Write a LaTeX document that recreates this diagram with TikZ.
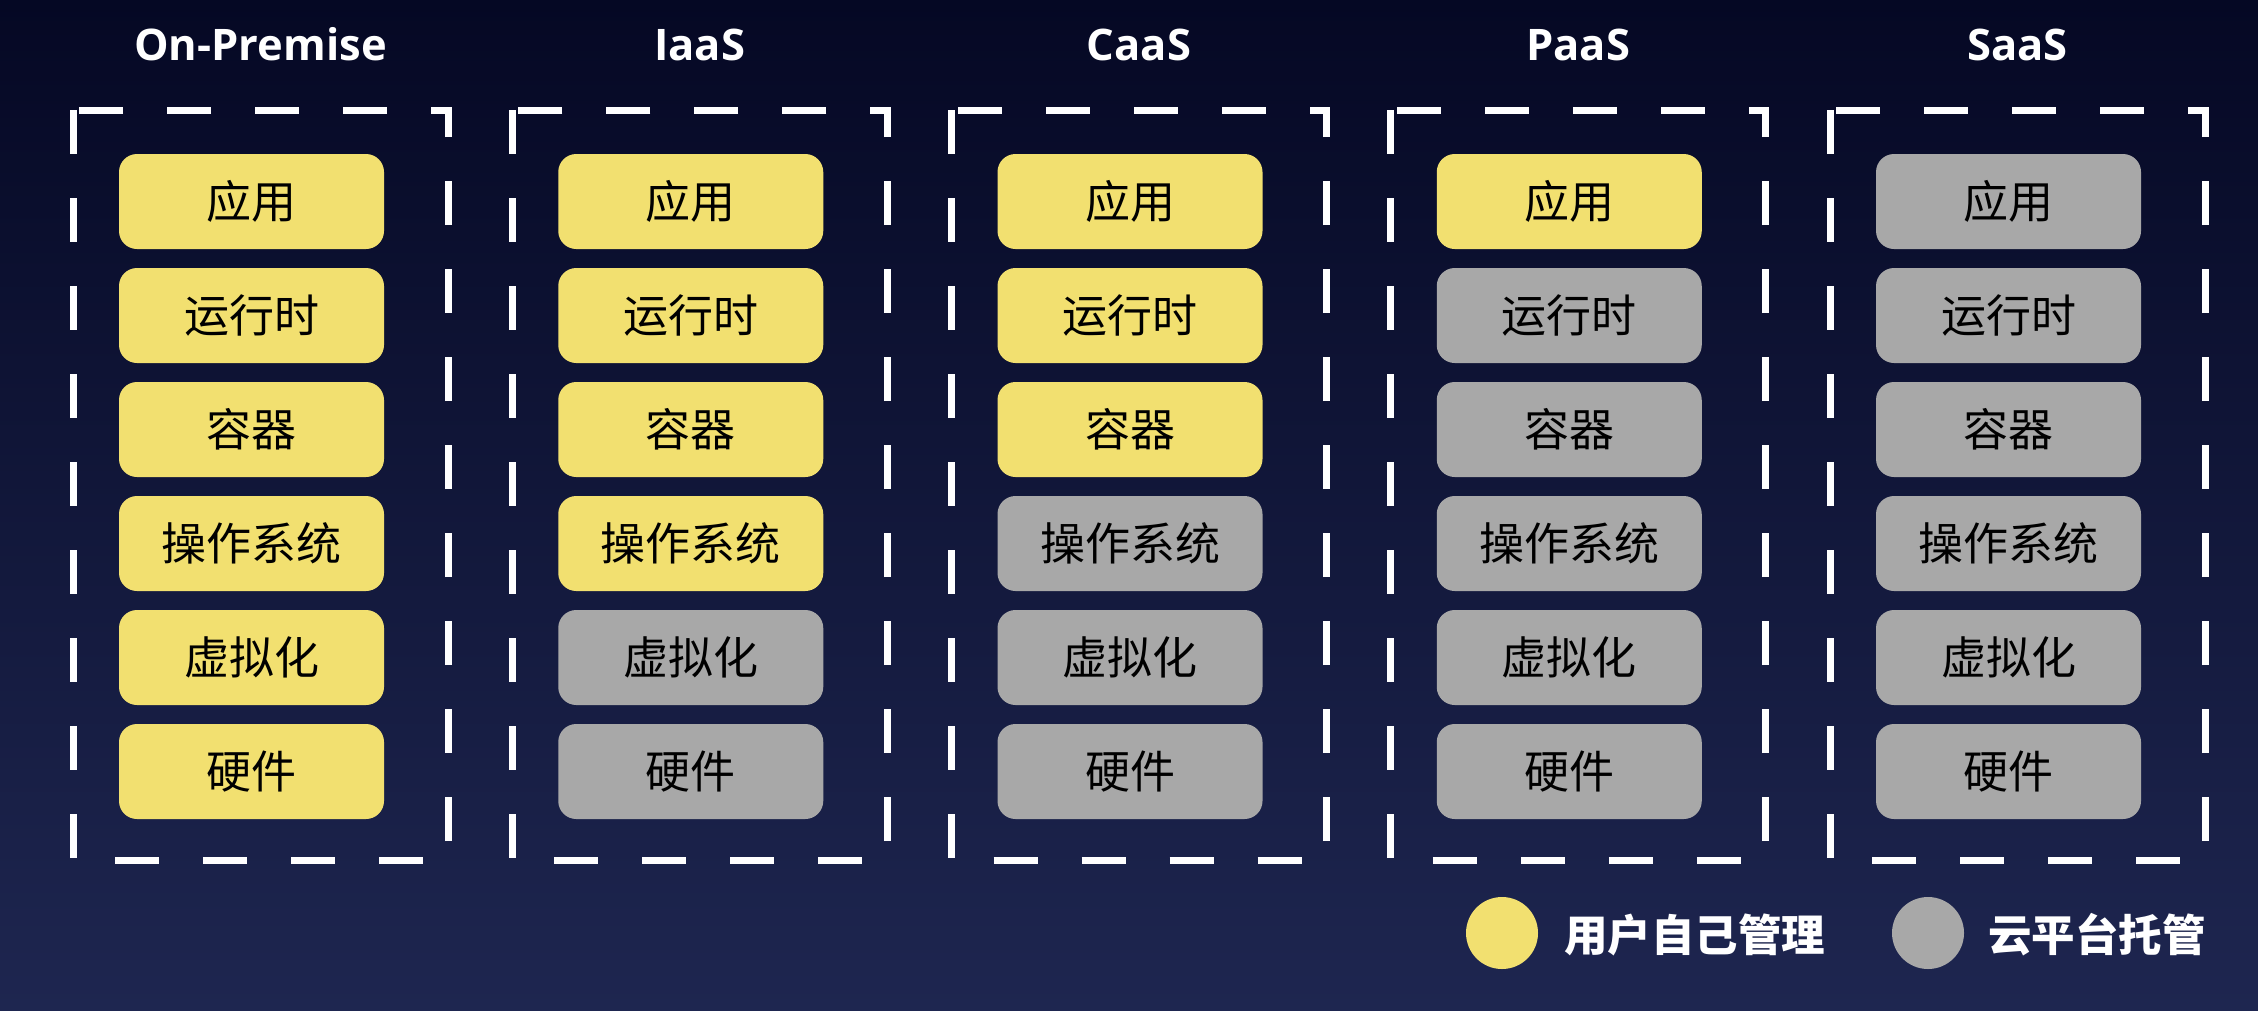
\documentclass[tikz,border=0pt]{standalone}
\usepackage{fontspec}
\setmainfont{Open Sans}
\newfontfamily\cjk{Noto Sans CJK SC}
\definecolor{bgtop}{RGB}{5,8,36}
\definecolor{bgbot}{RGB}{30,38,80}
\definecolor{uyellow}{RGB}{242,224,112}
\definecolor{ugray}{RGB}{168,168,168}
\tikzset{
  dashbox/.style={draw=white, line width=7pt, dash pattern=on 44pt off 44pt},
  coltitle/.style={text=white, anchor=base, inner sep=0pt, font=\bfseries\fontsize{43.5}{50}\selectfont},
  layer/.style={rounded corners=18pt, minimum width=265pt, minimum height=95pt, inner sep=0pt, text=black, font=\cjk\fontsize{45}{54}\selectfont},
  legdot/.style={circle, minimum size=72pt, inner sep=0pt},
  legtext/.style={anchor=west, inner sep=0pt, text=white, font=\cjk\bfseries\fontsize{43.5}{52}\selectfont}
}
\begin{document}
\begin{tikzpicture}[x=1pt,y=-1pt]
\useasboundingbox (0,0) rectangle (2258,1010);
\fill[top color=bgtop, bottom color=bgbot] (0,0) rectangle (2258,1010);
\foreach \t [count=\c from 0] in {On-Premise,IaaS,CaaS,PaaS,SaaS} {
  \pgfmathsetmacro\xl{73+439.25*\c}
  \draw[dashbox] (\xl,110) rectangle ({\xl+375},860);
  \node[coltitle] (title\c) at ({\xl+187.5},60) {\t};
}
\foreach \c/\n in {0/6,1/4,2/3,3/1,4/0} {
  \foreach \lab [count=\i from 0] in {应用,运行时,容器,操作系统,虚拟化,硬件} {
    \pgfmathsetmacro\xc{73+439.25*\c+178.5}
    \ifnum\i<\n \def\fc{uyellow}\else\def\fc{ugray}\fi
    \node[layer, fill=\fc] (L\c-\i) at (\xc,{201.5+114*\i}) {\raisebox{-3pt}{\lab}};
  }
}
\node[legdot, fill=uyellow] (dotuser) at (1502,933) {};
\node[legtext] (txtuser) at (1564,935) {用户自己管理};
\node[legdot, fill=ugray] (dotcloud) at (1928,933) {};
\node[legtext] (txtcloud) at (1988,935) {云平台托管};
\end{tikzpicture}
\end{document}
